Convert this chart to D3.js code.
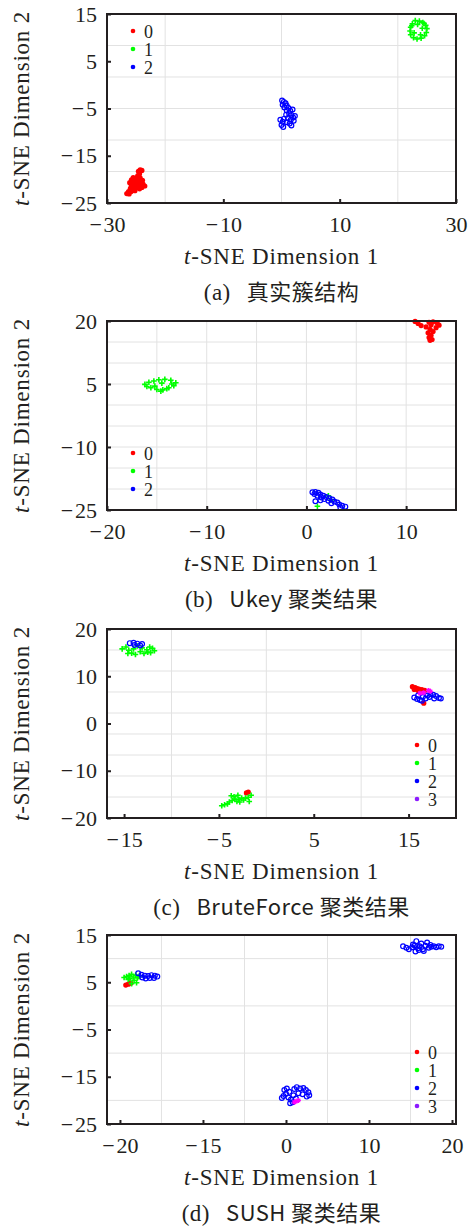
<!DOCTYPE html>
<html lang="zh">
<head>
<meta charset="UTF-8">
<title>t-SNE 聚类结果</title>
<script src="https://d3js.org/d3.v7.min.js"></script>
<style>
  html, body { margin: 0; padding: 0; background: #fff; }
  svg { display: block; }
  .tick text { font-family: "Liberation Serif", serif; font-size: 22px; fill: #231f20; }
</style>
</head>
<body>
<div id="chart"></div>
<script>
// class labels and colours
const classNames = ["0", "1", "2", "3"];
const classColors = ["#ff0000", "#00ff00", "#0000ff", "#ff00ff"];
const legendColors = ["#ff0000", "#00ff00", "#0000ff", "#8c1aff"];

// (a) true cluster structure
const aXTicks = [-30, -10, 10, 30];
const aYTicks = [15, 5, -5, -15, -25];
const a0 = [[-24.3,-18.0],[-24.0,-18.1],[-24.6,-18.3],[-24.4,-18.8],[-24.7,-19.2],[-24.9,-19.6],[-25.2,-19.9],[-24.6,-20.1],[-25.4,-20.4],[-24.9,-20.6],[-25.6,-20.8],[-25.1,-21.0],[-24.5,-20.9],[-25.8,-21.3],[-25.3,-21.5],[-24.2,-21.2],[-23.8,-21.0],[-23.5,-21.4],[-26.0,-22.0],[-25.6,-22.3],[-26.3,-22.6],[-26.6,-23.0],[-26.2,-23.1],[-25.0,-21.8],[-24.7,-21.6],[-25.3,-20.9],[-24.8,-20.3],[-25.9,-22.6],
  [-25.8,-20.1],[-25.5,-19.6],[-24.3,-19.7],[-24.2,-20.5],[-25.9,-21.8],[-24.4,-22.0],[-25.2,-22.4],[-23.9,-20.2],[-26.1,-20.7],[-24.0,-21.7]];
const a1 = [[23.0,13.6],[23.7,13.5],[24.3,13.2],[24.8,12.6],[25.0,11.9],[24.9,11.1],[24.6,10.4],[24.0,9.9],[23.3,9.7],[22.7,10.0],[22.2,10.6],[22.1,11.4],[22.2,12.2],[22.5,12.9],[23.4,12.8],[24.2,12.0],[22.8,11.0],[23.9,10.6],[24.5,13.0],[22.4,12.5]];
const a2 = [[0.1,-3.3],[0.4,-3.6],[0.7,-3.9],[0.2,-4.2],[0.9,-4.4],[0.5,-4.8],[1.2,-4.9],[0.9,-5.4],[1.5,-5.5],[1.3,-6.0],[0.8,-6.3],[1.7,-6.4],[2.0,-6.9],[1.1,-7.0],[0.4,-7.2],[1.6,-7.4],[2.1,-7.6],[0.2,-7.8],[0.9,-7.9],[1.4,-8.2],[0.0,-8.5],[0.3,-8.9],[1.7,-8.6],[2.3,-6.6],[1.9,-5.2],[-0.2,-7.4]];

// (b) Ukey
const bXTicks = [-20, -10, 0, 10];
const bYTicks = [20, 5, -10, -25];
const b0 = [[10.9,19.9],[11.2,19.4],[11.5,18.9],[12.3,19.7],[12.7,19.8],[13.1,19.6],[13.3,19.0],[12.5,19.1],[12.0,18.6],[13.0,18.4],[12.4,18.0],[12.7,17.5],[12.2,17.2],[12.5,16.6],[12.3,16.1],[12.6,15.6],[12.4,15.4]];
const b1 = [[-16.2,4.9],[-15.8,5.4],[-15.3,5.7],[-14.8,6.0],[-14.2,6.1],[-13.6,5.9],[-13.1,5.3],[-13.3,4.6],[-13.8,4.1],[-14.4,3.6],[-15.0,3.7],[-15.6,4.1],[-14.6,3.3],[-14.0,3.9],[-15.2,4.5],[-16.0,4.4],[-13.5,5.0],[-14.5,5.2],[2.2,-21.6],[2.5,-22.6],[1.1,-24.1]];
const b2 = [[0.6,-20.8],[0.9,-20.7],[1.2,-20.9],[0.8,-21.2],[1.4,-21.3],[1.1,-21.6],[1.7,-21.6],[1.5,-22.0],[2.0,-21.9],[2.3,-22.2],[1.8,-22.4],[2.6,-22.5],[2.2,-22.8],[1.4,-22.7],[0.9,-22.9],[2.8,-23.0],[3.1,-23.2],[2.5,-23.4],[3.3,-23.7],[3.6,-24.0],[3.4,-24.4],[3.9,-24.2]];

// (c) BruteForce
const cXTicks = [-15, -5, 5, 15];
const cYTicks = [20, 10, 0, -10, -20];
const c0 = [[15.4,7.8],[15.7,7.6],[15.9,7.4],[16.1,7.3],[16.4,7.2],[16.7,7.0],[15.6,7.2],[16.0,7.0],[16.3,6.9],[16.6,4.3],[-1.9,-14.5],[-2.1,-14.7]];
const c1 = [[-15.2,15.8],[-14.8,16.2],[-14.5,15.5],[-14.2,14.9],[-14.0,15.8],[-13.6,16.4],[-13.3,15.2],[-12.9,14.8],[-12.6,15.6],[-12.3,16.2],[-12.0,15.9],[-11.8,15.4],[-12.2,15.0],[-13.8,14.6],[-14.6,14.8],[-13.1,16.0],[-12.5,15.1],
  [-4.7,-17.4],[-4.4,-17.2],[-4.1,-17.0],[-3.9,-16.6],[-3.6,-16.3],[-3.3,-16.0],[-3.1,-16.5],[-2.9,-16.1],[-2.6,-15.8],[-2.8,-16.6],[-3.4,-15.5],[-3.7,-15.3],[-2.2,-15.8],[-1.9,-15.6],[-1.6,-15.2],[-1.8,-16.5],[-2.4,-16.2],[-3.0,-15.2]];
const c2 = [[-14.4,17.0],[-14.0,17.1],[-13.6,16.9],[-13.1,16.8],[-13.3,16.5],[-13.9,16.6],
  [15.6,5.5],[15.9,5.2],[16.2,5.0],[16.5,5.6],[16.8,5.3],[17.0,5.9],[17.3,6.2],[17.6,6.1],[17.9,5.8],[18.2,5.4],[17.7,5.3],[17.2,5.6],[16.4,4.8],[16.0,5.9],[18.4,5.3]];
const c3 = [[16.2,6.4],[16.6,6.5],[17.1,7.0],[17.3,6.8]];

// (d) SUSH
const dXTicks = [-20, -10, 0, 10, 20];
const dXLabels = ["\u221220", "\u221215", "0", "10", "20"];
const dYTicks = [15, 5, -5, -15, -25];
const d0 = [[-19.3,4.4],[-19.0,4.6],[-18.7,4.8]];
const d1 = [[-19.5,6.0],[-19.2,6.2],[-18.9,6.4],[-18.6,6.7],[-18.8,5.8],[-18.4,6.1],[-18.1,6.5],[-17.9,5.9],[-18.3,5.4],[-18.6,4.7],[-18.0,4.9],[-19.0,5.6],[-17.7,6.2]];
const d2 = [[-17.8,6.9],[-17.4,6.6],[-17.0,6.4],[-16.6,6.3],[-16.2,6.5],[-15.8,6.4],[-15.5,6.2],[-16.4,5.9],[-16.9,5.8],[-17.3,6.0],[-15.9,5.9],
  [14.1,12.6],[14.5,12.3],[14.8,12.0],[15.2,12.4],[15.5,12.8],[15.7,13.7],[15.9,12.2],[15.6,11.5],[16.1,12.6],[16.3,13.2],[16.5,12.0],[16.8,12.7],[17.0,13.4],[17.2,12.3],[17.5,12.5],[17.8,12.6],[18.1,12.4],[18.4,12.6],[18.7,12.5],[16.0,11.8],[15.3,13.0],[16.6,11.6],[17.4,12.9],
  [-0.2,-17.8],[0.1,-17.5],[0.4,-18.2],[0.0,-18.6],[-0.3,-19.1],[0.3,-19.4],[0.6,-19.8],[0.8,-20.4],[0.5,-20.6],[1.0,-17.6],[1.3,-17.2],[1.7,-17.5],[2.1,-17.4],[2.4,-17.8],[2.7,-18.3],[2.8,-18.9],[2.5,-19.2],[2.0,-18.7],[1.5,-18.5],[0.9,-18.9],[1.2,-19.6],[-0.5,-19.5]];
const d3pts = [[1.2,-20.2],[1.5,-20.0],[1.0,-20.4]];

const fmt = v => v < 0 ? "\u2212\u200a" + Math.abs(v) : String(v);

const panels = [
  { top: 14, xDomain: [-30, 30], yDomain: [-25, 15], xTicks: aXTicks, yTicks: aYTicks,
    gridX: [-20, 0, 20], gridY: [8.33, 1.67, -5, -11.67, -18.33],
    series: [a0, a1, a2], legend: { x: 133, y: 17, n: 3 },
    caption: ["(a)", "真实簇结构"] },
  { top: 321, xDomain: [-20, 15], yDomain: [-25, 20], xTicks: bXTicks, yTicks: bYTicks,
    gridX: [-15, -10, -5, 0, 5, 10], gridY: [15, 10, 5, 0, -5, -10, -15, -20],
    series: [b0, b1, b2], legend: { x: 133, y: 132, n: 3 },
    caption: ["(b)", "Ukey 聚类结果"] },
  { top: 629, xDomain: [-16.8, 20], yDomain: [-20, 20], xTicks: cXTicks, yTicks: cYTicks,
    gridX: [-10, 0, 10], gridY: [15.56, 11.11, 6.67, 2.22, -2.22, -6.67, -11.11, -15.56],
    series: [c0, c1, c2, c3], legend: { x: 417, y: 116, n: 4 },
    caption: ["(c)", "BruteForce 聚类结果"] },
  { top: 935, xDomain: [-21.56, 20.48], yDomain: [-25, 15], xTicks: dXTicks, xLabels: dXLabels, yTicks: dYTicks,
    gridX: [-15, -5, 5, 15], gridY: [10, 0, -10, -20],
    series: [d0, d1, d2, d3pts], legend: { x: 417, y: 117, n: 4 },
    caption: ["(d)", "SUSH 聚类结果"] }
];

const W = 469, H = 1227;
const left = 107, right = 456, plotH = 189;
const ink = "#231f20";
const serif = "'Liberation Serif', 'Times New Roman', serif";

const svg = d3.select("#chart").append("svg")
  .attr("width", W).attr("height", H);

const markers = [
  // 0: filled dot
  g => g.append("circle").attr("r", 2.6).attr("fill", classColors[0]),
  // 1: plus
  g => g.append("path").attr("d", "M-2.8,0H2.8M0,-2.8V2.8").attr("stroke", classColors[1]).attr("stroke-width", 1.6).attr("fill", "none"),
  // 2: open circle
  g => g.append("circle").attr("r", 2.4).attr("fill", "none").attr("stroke", classColors[2]).attr("stroke-width", 1.2),
  // 3: asterisk
  g => g.append("path").attr("d", "M-2.5,0H2.5M0,-2.5V2.5M-1.8,-1.8L1.8,1.8M-1.8,1.8L1.8,-1.8").attr("stroke", classColors[3]).attr("stroke-width", 1.2).attr("fill", "none")
];

panels.forEach(p => {
  const x = d3.scaleLinear().domain(p.xDomain).range([left, right]);
  const y = d3.scaleLinear().domain(p.yDomain).range([p.top + plotH, p.top]);
  const g = svg.append("g");

  // grid
  g.append("g").selectAll("line").data(p.gridX).join("line")
    .attr("x1", d => x(d)).attr("x2", d => x(d))
    .attr("y1", p.top).attr("y2", p.top + plotH)
    .attr("stroke", "#e2e2e2").attr("stroke-width", 1);
  g.append("g").selectAll("line").data(p.gridY).join("line")
    .attr("y1", d => y(d)).attr("y2", d => y(d))
    .attr("x1", left).attr("x2", right)
    .attr("stroke", "#e2e2e2").attr("stroke-width", 1);

  // points
  p.series.forEach((pts, k) => {
    g.append("g").selectAll("g").data(pts).join("g")
      .attr("transform", d => `translate(${x(d[0])},${y(d[1])})`)
      .each(function () { markers[k](d3.select(this)); });
  });

  // axes
  const xa = g.append("g").attr("transform", `translate(0,${p.top + plotH})`)
    .call(d3.axisBottom(x).tickValues(p.xTicks).tickSize(-4).tickPadding(13)
      .tickFormat((d, i) => p.xLabels ? p.xLabels[i].replace("\u2212", "\u2212\u200a") : fmt(d)));
  const ya = g.append("g").attr("transform", `translate(${left},0)`)
    .call(d3.axisLeft(y).tickValues(p.yTicks).tickSize(-4).tickPadding(10).tickFormat(fmt));
  [xa, ya].forEach(a => {
    a.select(".domain").remove();
    a.selectAll(".tick line").attr("stroke", ink).attr("stroke-width", 2);
    a.selectAll(".tick text").attr("fill", ink);
  });

  // box
  g.append("rect").attr("x", left).attr("y", p.top)
    .attr("width", right - left).attr("height", plotH)
    .attr("fill", "none").attr("stroke", ink).attr("stroke-width", 2);

  // legend
  const lg = g.append("g").attr("transform", `translate(${p.legend.x},${p.top + p.legend.y})`);
  d3.range(p.legend.n).forEach(i => {
    lg.append("circle").attr("cx", 0).attr("cy", i * 18).attr("r", 2.3).attr("fill", legendColors[i]);
    lg.append("text").attr("x", 11).attr("y", i * 18 + 6.5)
      .attr("font-family", serif).attr("font-size", 18).attr("fill", ink)
      .text(classNames[i]);
  });

  // x title
  const xt = g.append("text").attr("x", (left + right) / 2).attr("y", p.top + plotH + 61)
    .attr("text-anchor", "middle").attr("font-family", serif).attr("font-size", 23)
    .attr("letter-spacing", 0.8).attr("fill", ink);
  xt.append("tspan").attr("font-style", "italic").text("t");
  xt.append("tspan").text("-SNE Dimension 1");

  // y title
  const yt = g.append("text")
    .attr("transform", `translate(29,${p.top + plotH / 2}) rotate(-90)`)
    .attr("text-anchor", "middle").attr("font-family", serif).attr("font-size", 23)
    .attr("letter-spacing", 0.8).attr("fill", ink);
  yt.append("tspan").attr("font-style", "italic").text("t");
  yt.append("tspan").text("-SNE Dimension 2");

  // caption
  const ct = g.append("text").attr("x", (left + right) / 2).attr("y", p.top + plotH + 97)
    .attr("text-anchor", "middle").attr("font-size", 23).attr("fill", ink)
    .attr("font-family", serif).attr("letter-spacing", 0.5);
  ct.append("tspan").text(p.caption[0]);
  ct.append("tspan").attr("dx", 16).attr("font-size", 22)
    .attr("font-family", "'Noto Sans CJK SC', " + serif).text(p.caption[1]);
});
</script>
</body>
</html>
